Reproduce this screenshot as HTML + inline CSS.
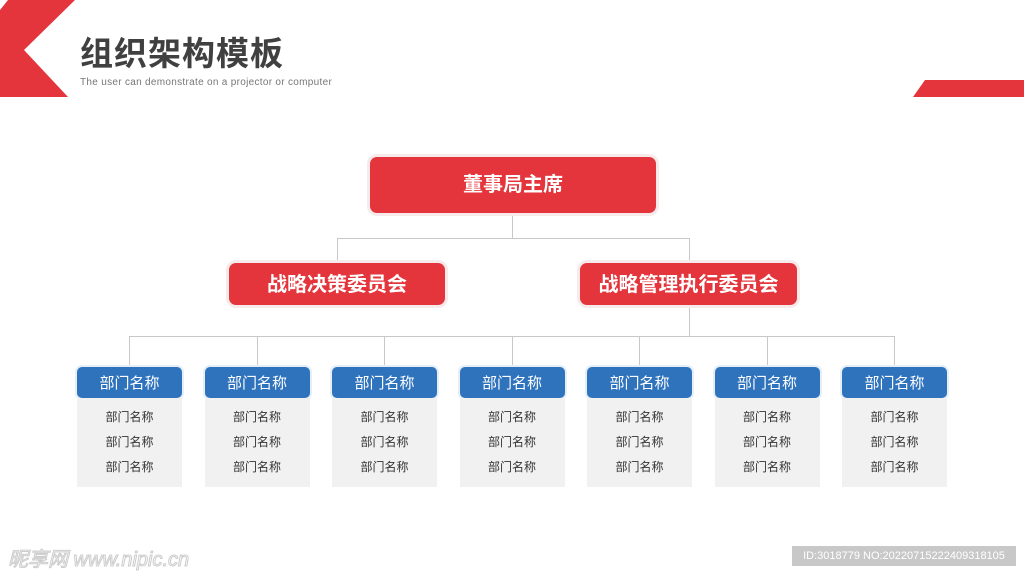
<!DOCTYPE html>
<html><head><meta charset="utf-8"><style>
body{margin:0;width:1024px;height:576px;background:#fff;position:relative;overflow:hidden;font-family:"Liberation Sans","Noto Sans CJK SC",sans-serif}
.a{position:absolute}
.red{background:#e3353b;color:#fff;border-radius:7px;font-weight:bold;text-align:center;box-shadow:0 0 0 3px #f6eaea}
.hd{background:#2f73bd;color:#fff;border-radius:5px;text-align:center;font-size:15px;line-height:33px;width:105px;height:31px;box-shadow:0 0 0 2px #e6eef7}
.bd{background:#f1f1f1;width:105px;height:89px;font-size:12px;color:#333;text-align:center;line-height:25px;padding-top:7px;box-sizing:border-box}
.l{position:absolute;background:#c8c8c8}
</style></head><body>
<svg class="a" style="left:0;top:0" width="1024" height="100">
<polygon points="8,0 75,0 24,50 68,97 0,97 0,10" fill="#e3353b"/>
<polygon points="925,80 1024,80 1024,97 913,97" fill="#e3353b"/>
</svg>
<div class="a" style="left:80px;top:32px;font-size:33px;font-weight:bold;color:#404040;letter-spacing:1px;line-height:44px">组织架构模板</div>
<div class="a" style="left:80px;top:77px;font-size:10px;color:#777;letter-spacing:0.3px">The user can demonstrate on a projector or computer</div>

<div class="l" style="left:512px;top:213px;width:1px;height:25px"></div>
<div class="l" style="left:337px;top:238px;width:352px;height:1px"></div>
<div class="l" style="left:337px;top:238px;width:1px;height:25px"></div>
<div class="l" style="left:689px;top:238px;width:1px;height:25px"></div>
<div class="l" style="left:689px;top:305px;width:1px;height:31px"></div>
<div class="l" style="left:129px;top:336px;width:766px;height:1px"></div>

<div class="a red" style="left:370px;top:157px;width:286px;height:56px;line-height:56px;font-size:20px">董事局主席</div>
<div class="a red" style="left:229px;top:263px;width:216px;height:42px;line-height:44px;font-size:20px">战略决策委员会</div>
<div class="a red" style="left:580px;top:263px;width:217px;height:42px;line-height:44px;font-size:20px">战略管理执行委员会</div>

<div id="c"></div>
<script>
var h='';
for(var i=0;i<7;i++){var x=77+i*127.5;
h+='<div class="l" style="left:'+(x+52)+'px;top:336px;width:1px;height:31px"></div>';
h+='<div class="a hd" style="left:'+x+'px;top:367px">部门名称</div>';
h+='<div class="a bd" style="left:'+x+'px;top:398px">部门名称<br>部门名称<br>部门名称</div>';}
document.getElementById('c').innerHTML=h;
</script>

<div class="a" style="left:8px;top:543px;font-size:20px;color:#fff;-webkit-text-stroke:1px #ccc;font-style:italic">昵享网 www.nipic.cn</div>
<div class="a" style="left:792px;top:546px;width:224px;height:20px;background:#c8c8c8;color:#fff;font-size:11px;line-height:20px;text-align:center">ID:3018779 NO:20220715222409318105</div>
</body></html>
